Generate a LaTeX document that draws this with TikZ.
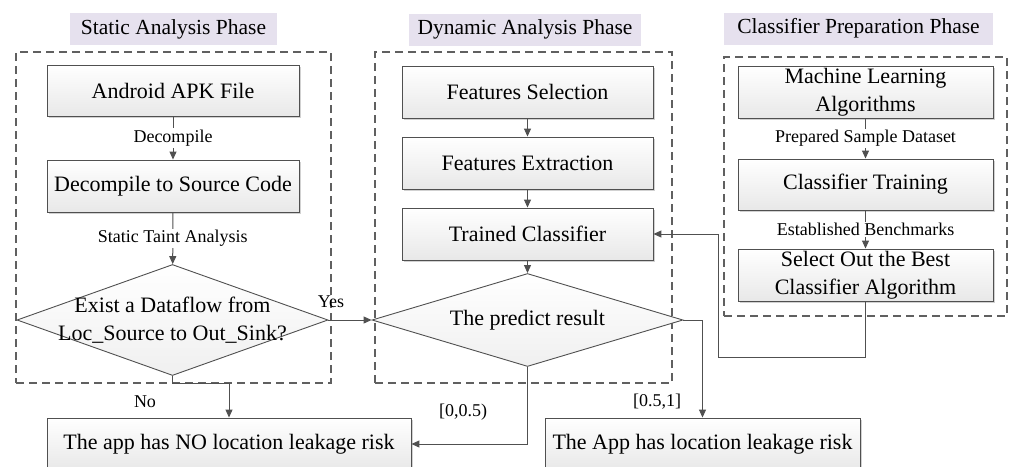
\documentclass[tikz,border=0pt]{standalone}
\usepackage{fontspec}
\setmainfont{Liberation Serif}
\usetikzlibrary{shapes.geometric,arrows.meta,shadows}
\definecolor{linec}{HTML}{505050}
\definecolor{framec}{HTML}{606060}
\definecolor{titlec}{HTML}{E6E1EE}
\begin{document}
\begin{tikzpicture}[x=1pt,y=-1pt,
  box/.style={draw=linec, line width=0.9pt, top color=white, bottom color=black!9,
    minimum height=52pt, inner sep=0pt, align=center,
    font=\fontsize{22}{27.5}\selectfont,
    drop shadow={shadow xshift=1.6pt,shadow yshift=-1.6pt,opacity=0.3,fill=black!60}},
  dia/.style={diamond, draw=linec, line width=0.9pt, top color=white, bottom color=black!6,
    inner sep=0pt},
  diatext/.style={align=center, font=\fontsize{22}{27.5}\selectfont, inner sep=0pt},
  titlebox/.style={fill=titlec, minimum height=32pt, inner sep=0pt,
    font=\fontsize{21.5}{26}\selectfont},
  frame/.style={draw=framec, line width=1.3pt, dash pattern=on 8pt off 5pt, inner sep=0pt},
  conn/.style={draw=linec, line width=1pt, -{Triangle[length=8pt,width=7pt]}},
  lbl/.style={fill=white, inner sep=1.5pt, font=\fontsize{18}{22}\selectfont},
  plain/.style={inner sep=0pt, font=\fontsize{18}{22}\selectfont}
]
\useasboundingbox (0,0) rectangle (1009,466);

% frames
\node[frame, minimum width=315pt, minimum height=331pt] (fstatic) at (173.5,217.5) {};
\node[frame, minimum width=297pt, minimum height=331pt] (fdyn) at (523.5,217.5) {};
\node[frame, minimum width=283pt, minimum height=259pt] (fprep) at (865.5,186.5) {};

% titles
\node[titlebox, minimum width=207pt] (tstatic) at (173.5,29) {Static Analysis Phase};
\node[titlebox, minimum width=232pt] (tdyn) at (525,29.5) {Dynamic Analysis Phase};
\node[titlebox, minimum width=269pt] (tprep) at (858.5,28.5) {Classifier Preparation Phase};

% static phase
\node[box, minimum width=252pt, minimum height=51pt] (apk) at (173,90.5) {Android APK File};
\node[box, minimum width=252pt] (dec) at (173,186) {Decompile to Source Code};
\node[dia, minimum width=311pt, minimum height=111pt] (d1) at (172.5,320) {};
\node[diatext] (d1t) at (d1.center) {Exist a Dataflow from\\Loc\_Source to Out\_Sink?};

% dynamic phase
\node[box, minimum width=251pt] (fs) at (527.5,92) {Features Selection};
\node[box, minimum width=251pt] (fe) at (527.5,163) {Features Extraction};
\node[box, minimum width=251pt] (tc) at (527.5,234) {Trained Classifier};
\node[dia, minimum width=311pt, minimum height=93pt] (d2) at (527.5,320) {};
\node[diatext] (d2t) at (d2.center) {The predict result};

% preparation phase
\node[box, minimum width=255pt] (ml) at (865.5,92) {Machine Learning\\Algorithms};
\node[box, minimum width=255pt, minimum height=51pt] (ct) at (865.5,184.5) {Classifier Training};
\node[box, minimum width=255pt] (sel) at (865.5,275) {Select Out the Best\\Classifier Algorithm};

% results
\node[box, minimum width=364pt] (no) at (229,444) {The app has NO location leakage risk};
\node[box, minimum width=315pt] (yesb) at (702.5,444) {The App has location leakage risk};

% connectors
\draw[conn] (apk) -- node[lbl] {Decompile} (dec);
\draw[conn] (dec) -- node[lbl] {Static Taint Analysis} (d1);
\draw[conn] (d1.east) -- (d2.west);
\node[plain] (lyes) at (331,302) {Yes};
\coordinate (nobend) at (172.5,383);
\draw[conn] (d1.south) -- (nobend) -| (no.north);
\node[plain] (lno) at (145,402) {No};

\draw[conn] (fs) -- (fe);
\draw[conn] (fe) -- (tc);
\draw[conn] (tc) -- (d2);
\draw[conn] (d2.south) |- (no.east);
\node[plain] (llow) at (463,412) {[0,0.5)};
\draw[conn] (d2.east) -| (yesb.north);
\node[plain] (lhigh) at (657,402) {[0.5,1]};

\draw[conn] (ml) -- node[lbl] {Prepared Sample Dataset} (ct);
\draw[conn] (ct) -- node[lbl] {Established Benchmarks} (sel);
\coordinate (loop) at (718,357);
\draw[conn] (sel.south) |- (loop) |- (tc.east);
\end{tikzpicture}
\end{document}
